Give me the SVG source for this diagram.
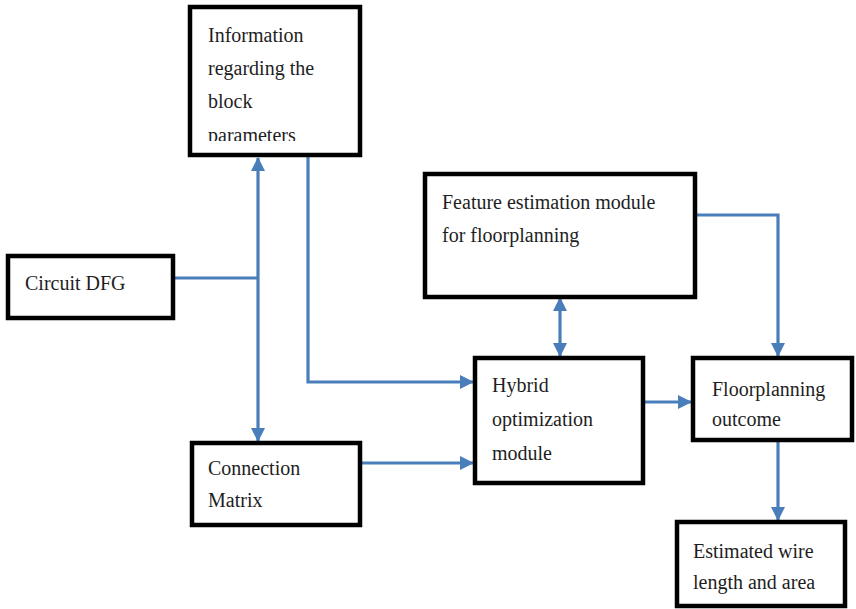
<svg xmlns="http://www.w3.org/2000/svg" width="856" height="609" viewBox="0 0 856 609">
  <style>
    .box { fill: #ffffff; stroke: #000000; stroke-width: 4.5; }
    .wire { fill: none; stroke: #4a7ebb; stroke-width: 3.2; }
  </style>
  <defs>
    <marker id="head" viewBox="0 0 14 14" refX="13" refY="7" markerWidth="14" markerHeight="14" markerUnits="userSpaceOnUse" orient="auto-start-reverse">
      <path d="M0,0 L14,7 L0,14 Z" fill="#4a7ebb"/>
    </marker>
    <clipPath id="infoClip">
      <rect x="190" y="7" width="170" height="134"/>
    </clipPath>
  </defs>
  <rect width="856" height="609" fill="#ffffff"/>

  <g id="connectors">
    <path class="wire" d="M173,278 L258,278"/>
    <path class="wire" d="M258,158 L258,441" marker-start="url(#head)" marker-end="url(#head)"/>
    <path class="wire" d="M308,155 L308,382 L473,382" marker-end="url(#head)"/>
    <path class="wire" d="M360,463 L473,463" marker-end="url(#head)"/>
    <path class="wire" d="M560,298 L560,356" marker-start="url(#head)" marker-end="url(#head)"/>
    <path class="wire" d="M643,402 L691,402" marker-end="url(#head)"/>
    <path class="wire" d="M695,215 L778,215 L778,356" marker-end="url(#head)"/>
    <path class="wire" d="M778,440 L778,520" marker-end="url(#head)"/>
  </g>

  <g font-family="Liberation Serif" font-size="20" fill="#1e1e1e">
    <g id="node-info">
      <rect class="box" x="190" y="7" width="170" height="148"/>
      <g clip-path="url(#infoClip)">
        <text x="208" y="42">Information</text>
        <text x="208" y="75">regarding the</text>
        <text x="208" y="108">block</text>
        <text x="208" y="142">parameters</text>
      </g>
    </g>

    <g id="node-circuit">
      <rect class="box" x="8" y="256" width="165" height="62"/>
      <text x="25" y="290">Circuit DFG</text>
    </g>

    <g id="node-feature">
      <rect class="box" x="425" y="174" width="270" height="123"/>
      <text x="442" y="209">Feature estimation module</text>
      <text x="442" y="242">for floorplanning</text>
    </g>

    <g id="node-hybrid">
      <rect class="box" x="475" y="358" width="168" height="125"/>
      <text x="492" y="392">Hybrid</text>
      <text x="492" y="426">optimization</text>
      <text x="492" y="460">module</text>
    </g>

    <g id="node-connection">
      <rect class="box" x="192" y="443" width="168" height="82"/>
      <text x="208" y="475">Connection</text>
      <text x="208" y="507">Matrix</text>
    </g>

    <g id="node-outcome">
      <rect class="box" x="693" y="358" width="159" height="82"/>
      <text x="712" y="396">Floorplanning</text>
      <text x="712" y="426">outcome</text>
    </g>

    <g id="node-estimate">
      <rect class="box" x="677" y="522" width="168" height="84"/>
      <text x="693" y="558">Estimated wire</text>
      <text x="693" y="589">length and area</text>
    </g>
  </g>
</svg>
